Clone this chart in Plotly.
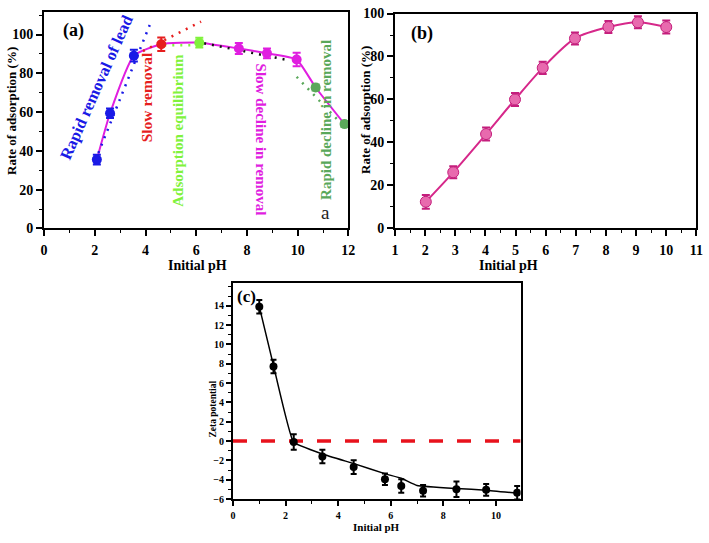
import plotly.graph_objects as go

# ---------------- data: panel (a) ----------------
ph_a = [2.08, 2.60, 3.54, 4.62, 6.12, 7.68, 8.79, 9.96, 10.71, 11.85]
rate_a = [35.5, 59.4, 89.1, 95.0, 95.8, 92.8, 90.3, 87.1, 72.7, 53.8]
err_a = [2.5, 2.5, 3.0, 3.5, 2.5, 2.8, 2.5, 3.5, 1.5, 1.5]
stage_a = ["blue", "blue", "blue", "red", "lgreen", "magenta", "magenta", "magenta", "dgreen", "dgreen"]

fit_blue_x, fit_blue_y = [2.14, 4.22], [38.9, 106.7]
fit_red_x, fit_red_y = [3.90, 6.19], [91.5, 106.7]
fit_lgreen_x, fit_lgreen_y = [4.74, 6.05], [94.5, 94.5]
fit_black_x, fit_black_y = [6.31, 9.70], [95.5, 86.6]
fit_dgreen_x, fit_dgreen_y = [9.96, 11.78], [78.2, 53.2]

labels_a = ["Rapid removal of lead", "Slow removal", "Adsorption equilibrium",
            "Slow decline in removal", "Rapid decline in removal"]

# ---------------- data: panel (b) ----------------
ph_b = [2.02, 2.93, 4.02, 4.98, 5.90, 6.97, 8.08, 9.06, 10.0]
rate_b = [12.4, 26.1, 43.9, 60.0, 74.7, 88.4, 93.7, 95.9, 93.7]
err_b = [3.2, 2.8, 3.0, 3.0, 2.8, 2.8, 2.8, 2.8, 3.0]

# ---------------- data: panel (c) ----------------
ph_c = [1.00, 1.54, 2.31, 3.40, 4.59, 5.78, 6.40, 7.23, 8.50, 9.63, 10.81]
zeta_c = [13.9, 7.7, -0.1, -1.6, -2.7, -3.95, -4.65, -5.15, -5.0, -5.05, -5.35]
err_c = [0.7, 0.7, 0.8, 0.7, 0.7, 0.6, 0.7, 0.6, 0.8, 0.6, 0.7]
fit_c_x = [1.0, 1.55, 2.3, 3.4, 4.6, 5.8, 6.4, 7.0, 8.5, 9.63, 10.9]
fit_c_y = [13.9, 7.7, -0.1, -1.34, -2.34, -3.4, -3.85, -4.6, -4.92, -5.08, -5.42]
zeta_ticks = [-6, -4, -2, 0, 2, 4, 6, 8, 10, 12, 14]

FONT = "Liberation Serif"
COL = {"blue": "#1a1ae6", "red": "#e61e1e", "lgreen": "#80f23c",
       "magenta": "#e01ee0", "dgreen": "#5aa85a", "black": "#111111"}

fig = go.Figure()

# ---- panel (a) ----
fig.add_trace(go.Scatter(x=ph_a, y=rate_a, mode="lines", xaxis="x", yaxis="y",
                         line=dict(color=COL["magenta"], width=2, shape="spline", smoothing=0.5),
                         showlegend=False, hoverinfo="skip"))
for fx, fy, c in [(fit_blue_x, fit_blue_y, "blue"), (fit_red_x, fit_red_y, "red"),
                  (fit_lgreen_x, fit_lgreen_y, "lgreen"), (fit_black_x, fit_black_y, "black"),
                  (fit_dgreen_x, fit_dgreen_y, "dgreen")]:
    fig.add_trace(go.Scatter(x=fx, y=fy, mode="lines", xaxis="x", yaxis="y",
                             line=dict(color=COL[c], width=2.5, dash="2px,6px"),
                             showlegend=False))
for c in ["blue", "red", "lgreen", "magenta", "dgreen"]:
    idx = [i for i, s in enumerate(stage_a) if s == c]
    fig.add_trace(go.Scatter(x=[ph_a[i] for i in idx], y=[rate_a[i] for i in idx],
                             mode="markers", xaxis="x", yaxis="y",
                             marker=dict(color=COL[c], size=10),
                             error_y=dict(type="data", array=[err_a[i] for i in idx],
                                          color=COL[c], thickness=2, width=4),
                             showlegend=False))

# ---- panel (b) ----
fig.add_trace(go.Scatter(x=ph_b, y=rate_b, mode="lines+markers", xaxis="x2", yaxis="y2",
                         line=dict(color="#d6288a", width=2, shape="spline", smoothing=0.8),
                         marker=dict(color="#e86aae", size=11, line=dict(color="#c41e7c", width=1)),
                         error_y=dict(type="data", array=err_b, color="#c41e7c", thickness=2, width=4),
                         showlegend=False))

# ---- panel (c) ----
fig.add_trace(go.Scatter(x=[0, 10.94], y=[0, 0], mode="lines", xaxis="x3", yaxis="y3",
                         line=dict(color="#e8121c", width=3.5, dash="14px,14px"),
                         showlegend=False))
fig.add_trace(go.Scatter(x=fit_c_x, y=fit_c_y, mode="lines", xaxis="x3", yaxis="y3",
                         line=dict(color="black", width=1.5, shape="spline", smoothing=0.3),
                         showlegend=False))
fig.add_trace(go.Scatter(x=ph_c, y=zeta_c, mode="markers", xaxis="x3", yaxis="y3",
                         marker=dict(color="black", size=8),
                         error_y=dict(type="data", array=err_c, color="black", thickness=2, width=3),
                         showlegend=False))

tickf = dict(family=FONT, size=14, color="black", weight="bold")
tickf_c = dict(family=FONT, size=10, color="black", weight="bold")

def ax(domain, rng, dtick, minor_dtick, anchor, tf, tl=6, standoff=0):
    return dict(domain=domain, range=rng, dtick=dtick, tick0=0, anchor=anchor,
                showgrid=False, zeroline=False, showline=True, linecolor="black",
                linewidth=2, mirror=True, ticks="outside", ticklen=tl, tickwidth=1.5,
                tickcolor="black", tickfont=tf, ticklabelstandoff=standoff,
                ticklabeloverflow="allow",
                minor=dict(dtick=minor_dtick, tick0=0, ticks="outside", ticklen=3,
                           tickwidth=1.2, tickcolor="black", showgrid=False))

W, H = 709, 543
def px(x0, x1):
    return [x0 / W, x1 / W]
def py(y_top, y_bot):
    return [1 - y_bot / H, 1 - y_top / H]

xa = ax(px(41.7, 350.3), [0, 12], 2, 1, "y", tickf, standoff=2)
ya = ax(py(5, 227.7), [0, 111.7], 20, 10, "x", tickf)
xb = ax(px(397.7, 703.3), [1, 11], 1, 0.5, "y2", tickf, standoff=2)
xb["tick0"] = 1
yb = ax(py(6.7, 227.7), [0, 100], 20, 10, "x2", tickf)
xc = ax(px(233.3, 525), [0, 10.94], 2, 1, "y3", tickf_c, tl=5, standoff=1)
yc = ax(py(284.3, 506), [-6, 16.3], 2, 1, "x3", tickf_c, tl=5)
yc["tickmode"] = "array"
yc["tickvals"] = zeta_ticks
yc["minor"]["tick0"] = -6

ann = []
def txt(x, y, s, color, size, angle=0, xref="x", yref="y", bold=True):
    ann.append(dict(x=x, y=y, xref=xref, yref=yref, text=s, showarrow=False,
                    textangle=angle, xanchor="center", yanchor="middle",
                    font=dict(family=FONT, size=size, color=color,
                              weight="bold" if bold else "normal")))

# panel (a) labels
txt(1.15, 102.0, "(a)", "black", 18)
txt(2.07, 72.5, labels_a[0], COL["blue"], 16.5, -66)
txt(4.05, 67.5, labels_a[1], COL["red"], 15.5, -90)
txt(5.25, 50.5, labels_a[2], COL["lgreen"], 15, -90)
txt(8.54, 46.0, labels_a[3], COL["magenta"], 15, 90)
txt(11.09, 56.1, labels_a[4], COL["dgreen"], 15, -90)
txt(11.09, 8.0, "a", "#222222", 19, bold=False)
# panel (b)
txt(1.89, 90.5, "(b)", "black", 18, xref="x2", yref="y2")
# panel (c)
txt(0.5, 15.0, "(c)", "black", 17, xref="x3", yref="y3")

# axis titles (paper coords)
txt(8 / W, 1 - 107 / H, "Rate of adsorption (%)", "black", 13, -90, "paper", "paper")
txt(367 / W, 1 - 106 / H, "Rate of adsorption (%)", "black", 13, -90, "paper", "paper")
txt(197 / W, 1 - 266 / H, "Initial pH", "black", 14, 0, "paper", "paper")
txt(512.5 / W, 1 - 266 / H, "Initial pH", "black", 14, 0, "paper", "paper")
txt(213 / W, 1 - 413 / H, "Zeta potential", "black", 9.5, -90, "paper", "paper")
txt(379 / W, 1 - 535 / H, "Initial pH", "black", 11, 0, "paper", "paper")

fig.update_layout(
    width=W, height=H, margin=dict(l=0, r=0, t=0, b=0),
    paper_bgcolor="white", plot_bgcolor="white", showlegend=False,
    xaxis=xa, yaxis=ya, xaxis2=xb, yaxis2=yb, xaxis3=xc, yaxis3=yc,
    annotations=ann, font=dict(family=FONT),
)

fig.write_html("out.html", config={"displayModeBar": False},
               post_script="document.body.style.margin='0px';document.body.style.overflow='hidden';")
